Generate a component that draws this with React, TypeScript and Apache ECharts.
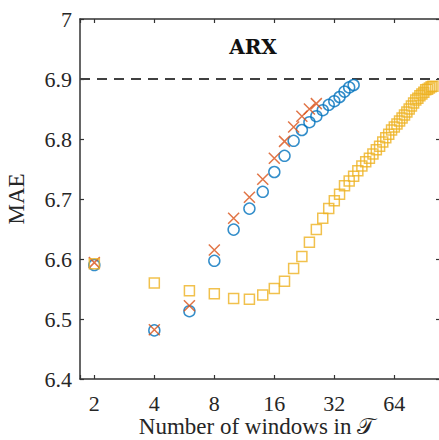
import React, { useEffect, useRef } from "react";
import * as echarts from "echarts";

// Number of windows (x) and mean absolute error (y) per method
const redWindows = [2, 4, 6, 8, 10, 12, 14, 16, 18, 20, 22, 24, 26];
const redMAE = [6.594, 6.482, 6.522, 6.615, 6.668, 6.703, 6.733, 6.768, 6.796, 6.82, 6.838, 6.85, 6.859];

const blueWindows = [2, 4, 6, 8, 10, 12, 14, 16, 18, 20, 22, 24, 26, 28, 30, 32, 34, 36, 38, 40];
const blueMAE = [
  6.59, 6.481, 6.513, 6.597, 6.649, 6.684, 6.712, 6.745, 6.772, 6.797,
  6.815, 6.828, 6.838, 6.848, 6.857, 6.863, 6.87, 6.879, 6.886, 6.89,
];

const yellowWindows = [
  2, 4, 6, 8, 10, 12, 14, 16, 18, 20, 22, 24, 26, 28, 30, 32, 34, 36, 38, 40,
  42, 44, 46, 48, 50, 52, 54, 56, 58, 60, 62, 64, 66, 68, 70, 72, 74, 76, 78, 80,
  82, 84, 86, 88, 90, 92, 94, 96, 98, 100,
];
const yellowMAE = [
  6.592, 6.56, 6.547, 6.542, 6.534, 6.533, 6.54, 6.551, 6.563, 6.584,
  6.604, 6.628, 6.649, 6.668, 6.684, 6.697, 6.708, 6.722, 6.73, 6.738,
  6.747, 6.755, 6.762, 6.768, 6.775, 6.782, 6.788, 6.795, 6.802, 6.808,
  6.815, 6.82, 6.825, 6.83, 6.835, 6.84, 6.845, 6.85, 6.855, 6.86,
  6.865, 6.868, 6.872, 6.875, 6.878, 6.882, 6.883, 6.885, 6.887, 6.888,
];

const baselineMAE = 6.9;
const xRange = [1.695, 108.5];
const yRange = [6.4, 7];
const xTitle = "Number of windows in 𝒯";

const zip = (xs: number[], ys: number[]) => xs.map((x, i) => [x, ys[i]]);

const AXIS = "#333333";
const TEXT = "#262626";
const FONT = "Liberation Serif";

export default function App() {
  const ref = useRef<HTMLDivElement>(null);

  useEffect(() => {
    document.body.style.margin = "0";
    const chart = echarts.init(ref.current!, null, { renderer: "svg" });

    const xBase = {
      type: "log" as const,
      logBase: 2,
      min: xRange[0],
      max: xRange[1],
      splitLine: { show: false },
      axisLine: { show: true, lineStyle: { color: AXIS, width: 1.5 } },
      axisTick: { show: true, inside: true, length: 4, lineStyle: { color: AXIS, width: 1.2 } },
      minorTick: { show: false },
    };
    const yBase = {
      type: "value" as const,
      min: yRange[0],
      max: yRange[1],
      interval: 0.1,
      splitLine: { show: false },
      axisLine: { show: true, lineStyle: { color: AXIS, width: 1.5 } },
      axisTick: { show: true, inside: true, length: 4, lineStyle: { color: AXIS, width: 1.2 } },
    };

    const isPow2 = (v: number) => Math.abs(Math.log2(v) - Math.round(Math.log2(v))) < 1e-6;

    chart.setOption({
      animation: false,
      backgroundColor: "#ffffff",
      textStyle: { fontFamily: FONT },
      grid: { left: 80, top: 19, right: 2, bottom: 61, containLabel: false, outerBoundsMode: "none" },
      graphic: [
        {
          type: "text",
          x: 253,
          y: 47,
          style: {
            text: "ARX",
            align: "center",
            verticalAlign: "middle",
            fontFamily: "DejaVu Serif",
            fontWeight: "bold",
            fontSize: 20,
            fill: "#111111",
          },
          z: 10,
        },
        {
          type: "text",
          x: 257,
          y: 426,
          style: {
            text: xTitle,
            align: "center",
            verticalAlign: "middle",
            fontFamily: FONT,
            fontSize: 23,
            fill: TEXT,
          },
          z: 10,
        },
      ],
      xAxis: [
        {
          ...xBase,
          position: "bottom",
          axisLabel: {
            show: true,
            margin: 13,
            fontFamily: FONT,
            fontSize: 22,
            color: TEXT,
            formatter: (v: number) => (isPow2(v) ? String(Math.round(v)) : ""),
          },
        },
        { ...xBase, position: "top", axisLabel: { show: false } },
      ],
      yAxis: [
        {
          ...yBase,
          position: "left",
          name: "MAE",
          nameLocation: "middle",
          nameGap: 52,
          nameRotate: 90,
          nameTextStyle: { fontFamily: FONT, fontSize: 23, color: TEXT },
          axisLabel: {
            show: true,
            margin: 8,
            fontFamily: FONT,
            fontSize: 22,
            color: TEXT,
            formatter: (v: number) => String(Number(v.toFixed(1))),
          },
        },
        { ...yBase, position: "right", axisLabel: { show: false } },
      ],
      series: [
        {
          type: "line",
          xAxisIndex: 0,
          yAxisIndex: 0,
          data: [
            [xRange[0], baselineMAE],
            [xRange[1], baselineMAE],
          ],
          symbol: "none",
          silent: true,
          lineStyle: { color: "#404040", width: 1.8, type: [10, 7] },
          z: 1,
        },
        {
          type: "scatter",
          data: zip(blueWindows, blueMAE),
          symbol: "circle",
          symbolSize: 11,
          itemStyle: { color: "rgba(0,0,0,0)", borderColor: "#0072BD", borderWidth: 1.5 },
          z: 2,
        },
        {
          type: "scatter",
          data: zip(redWindows, redMAE),
          symbol: "path://M0,0L10,10M10,0L0,10",
          symbolSize: 11,
          itemStyle: { color: "rgba(0,0,0,0)", borderColor: "#D95319", borderWidth: 1.5 },
          z: 3,
        },
        {
          type: "scatter",
          data: zip(yellowWindows, yellowMAE),
          symbol: "rect",
          symbolSize: 10,
          itemStyle: { color: "rgba(0,0,0,0)", borderColor: "#EDB120", borderWidth: 1.5 },
          z: 4,
        },
      ],
    });

    return () => chart.dispose();
  }, []);

  return (
    <div style={{ position: "fixed", left: 0, top: 0, width: 439, height: 440, overflow: "hidden", background: "#fff" }}>
      <div ref={ref} style={{ width: 442, height: 440 }} />
    </div>
  );
}
